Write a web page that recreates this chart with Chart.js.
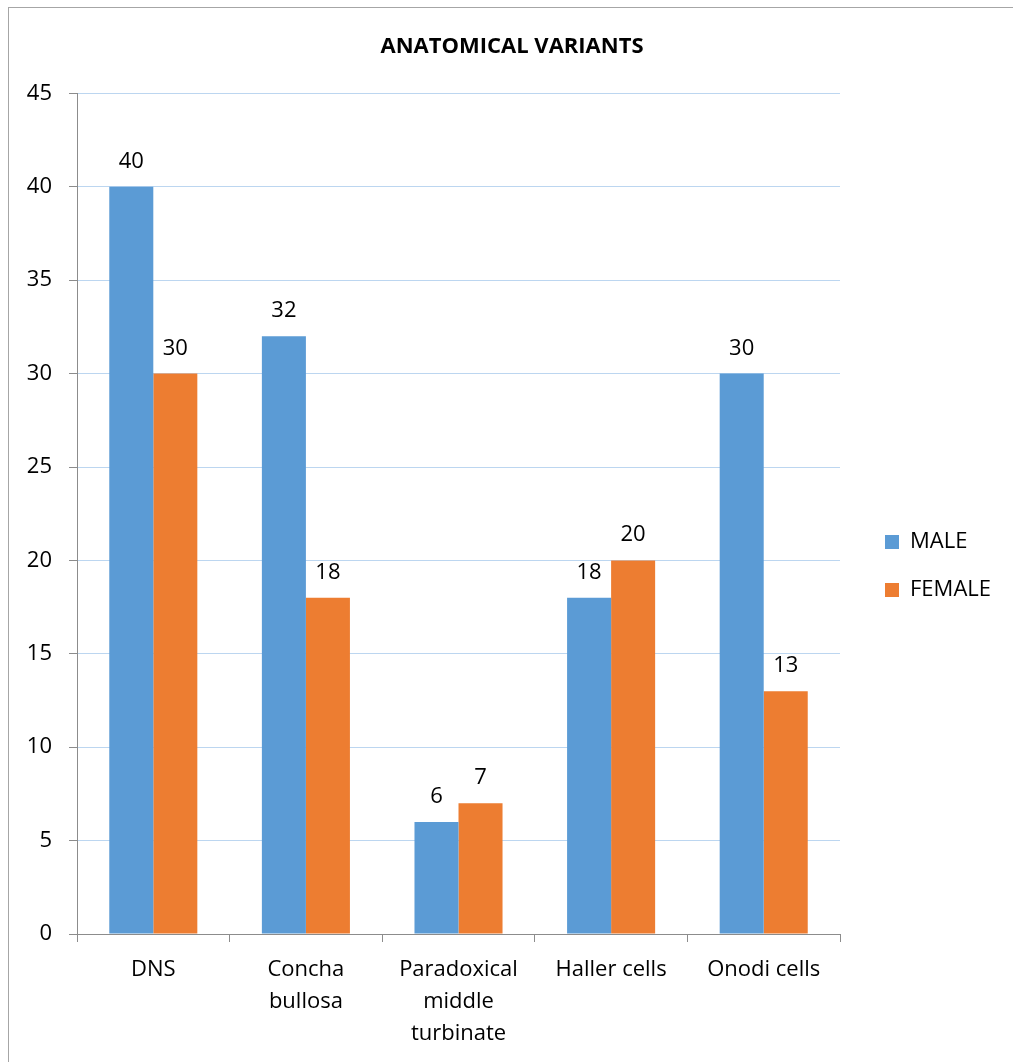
<!DOCTYPE html>
<html>
<head>
<meta charset="utf-8">
<script src="https://cdn.jsdelivr.net/npm/chart.js@4.4.1/dist/chart.umd.min.js"></script>
<style>
  html, body { margin: 0; padding: 0; background: #fff; overflow: hidden; }
  #frame { position: absolute; left: 8px; top: 7px; width: 1100px; height: 1100px; border: 1px solid #a6a6a6; box-sizing: border-box; }
  #wrap { position: absolute; left: 0; top: 0; width: 1013px; height: 1062px; }
</style>
</head>
<body>
<div id="frame"></div>
<div id="wrap"><canvas id="chart"></canvas></div>
<script>
// Anatomical variants by sex
const categories = ['DNS', ['Concha', 'bullosa'], ['Paradoxical', 'middle', 'turbinate'], 'Haller cells', 'Onodi cells'];
const maleValues = [40, 32, 6, 18, 30];
const femaleValues = [30, 18, 7, 20, 13];
const yTicks = [0, 5, 10, 15, 20, 25, 30, 35, 40, 45];

const FONT = "'Open Sans', 'Liberation Sans', sans-serif";
const AXIS_GRAY = '#8c8c8c';

// Writes each bar's value just above it
const valueLabels = {
  id: 'valueLabels',
  afterDatasetsDraw(chart) {
    const ctx = chart.ctx;
    ctx.save();
    ctx.font = '22px ' + FONT;
    ctx.fillStyle = '#000';
    ctx.textAlign = 'center';
    ctx.textBaseline = 'alphabetic';
    chart.data.datasets.forEach((ds, i) => {
      chart.getDatasetMeta(i).data.forEach((bar, j) => {
        ctx.fillText(String(ds.data[j]), bar.x, bar.y - 19);
      });
    });
    ctx.restore();
  }
};

// Moves the legend beside the plot (centred on the whole frame) and
// centres the title on the frame rather than the remaining width
const blockPlacement = {
  id: 'blockPlacement',
  afterLayout(chart) {
    const lg = chart.legend;
    if (lg) {
      const dx = 19, dy = 35;
      lg.left += dx; lg.right += dx;
      lg.top += dy; lg.bottom += dy;
    }
    const tb = chart.titleBlock;
    if (tb) {
      const tx = 21;
      tb.left += tx; tb.right += tx;
    }
  }
};

new Chart(document.getElementById('chart'), {
  type: 'bar',
  data: {
    labels: categories,
    datasets: [
      { label: 'MALE', data: maleValues, backgroundColor: '#5B9BD5' },
      { label: 'FEMALE', data: femaleValues, backgroundColor: '#ED7D31' }
    ]
  },
  options: {
    responsive: true,
    maintainAspectRatio: false,
    animation: false,
    devicePixelRatio: 1,
    categoryPercentage: 0.577,
    barPercentage: 1.0,
    layout: { padding: { left: 0, right: 31, top: 0, bottom: 0 } },
    plugins: {
      title: {
        display: true,
        text: 'ANATOMICAL VARIANTS',
        color: '#000',
        font: { family: FONT, size: 22, weight: 'bold' },
        padding: { top: 34, bottom: 33 }
      },
      legend: {
        display: true,
        position: 'right',
        align: 'center',
        labels: {
          color: '#000',
          font: { family: FONT, size: 22 },
          boxWidth: 14,
          boxHeight: 14,
          padding: 26
        }
      },
      tooltip: { enabled: false }
    },
    scales: {
      x: {
        offset: true,
        grid: {
          offset: true,
          drawOnChartArea: false,
          tickLength: 8,
          tickColor: AXIS_GRAY
        },
        border: { color: AXIS_GRAY, width: 1 },
        ticks: {
          color: '#000',
          font: { family: FONT, size: 22, lineHeight: 1.45 },
          padding: 12,
          maxRotation: 0,
          autoSkip: false
        },
        afterFit(scale) { scale.height = 128; }
      },
      y: {
        min: 0,
        max: 45,
        afterBuildTicks(scale) { scale.ticks = yTicks.map(v => ({ value: v })); },
        grid: {
          color: ctx => (ctx.tick && ctx.tick.value === 0) ? 'rgba(0,0,0,0)' : '#bcd6f0',
          tickLength: 8,
          tickColor: AXIS_GRAY
        },
        border: { color: AXIS_GRAY, width: 1 },
        ticks: {
          color: '#000',
          font: { family: FONT, size: 22 },
          padding: 17
        },
        afterFit(scale) { scale.width = 77; }
      }
    }
  },
  plugins: [valueLabels, blockPlacement]
});
</script>
</body>
</html>
